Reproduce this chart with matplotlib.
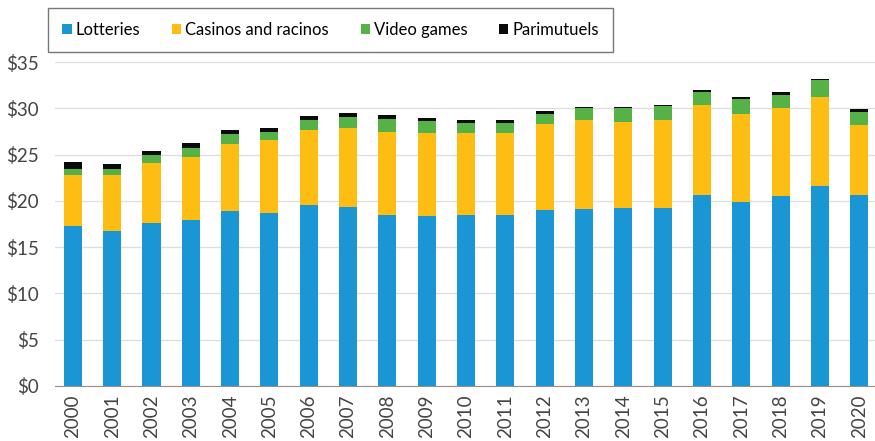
import numpy as np
import matplotlib.pyplot as plt

plt.rcParams['font.family'] = ['Lato', 'DejaVu Sans']

years = [str(y) for y in range(2000, 2021)]
lotteries = [17.3, 16.8, 17.6, 17.9, 18.9, 18.7, 19.6, 19.3, 18.5, 18.4, 18.5,
             18.5, 19.0, 19.1, 19.25, 19.25, 20.6, 19.85, 20.5, 21.6, 20.6]
casinos = [5.5, 6.0, 6.5, 6.8, 7.3, 7.9, 8.1, 8.6, 9.0, 8.9, 8.8,
           8.8, 9.3, 9.6, 9.3, 9.45, 9.75, 9.55, 9.5, 9.6, 7.6]
video = [0.7, 0.6, 0.9, 1.0, 1.0, 0.9, 1.0, 1.2, 1.4, 1.3, 1.1,
         1.1, 1.05, 1.3, 1.45, 1.55, 1.45, 1.6, 1.5, 1.85, 1.4]
parimutuels = [0.7, 0.6, 0.4, 0.6, 0.5, 0.4, 0.5, 0.4, 0.4, 0.35, 0.4,
               0.3, 0.4, 0.2, 0.2, 0.15, 0.2, 0.2, 0.3, 0.15, 0.3]

series = [("Lotteries", lotteries, "#1a96d4"),
          ("Casinos and racinos", casinos, "#fdbd13"),
          ("Video games", video, "#56b146"),
          ("Parimutuels", parimutuels, "#0a0a0a")]

fig = plt.figure(figsize=(8.75, 4.41), dpi=100)
ax = fig.add_axes([0.063, 0.125, 0.937, 0.734])

x = np.arange(len(years))
bottom = np.zeros(len(years))
handles = []
for name, vals, color in series:
    b = ax.bar(x, vals, bottom=bottom, width=0.46, color=color, label=name, zorder=3)
    bottom += np.array(vals)
    handles.append(b)

ax.set_xlim(-0.45, 20.4)
ax.set_ylim(0, 35)
ax.set_yticks(range(0, 36, 5))
ax.set_yticklabels([f"${v}" for v in range(0, 36, 5)], fontsize=13.5, color="#444444")
ax.set_xticks(x)
ax.set_xticklabels(years, rotation=90, fontsize=13.5, color="#444444")
ax.tick_params(length=0)
ax.tick_params(axis='y', pad=12)
ax.tick_params(axis='x', pad=6)
ax.grid(axis='y', color="#dddddd", linewidth=0.9, zorder=0)
for s in ['top', 'right', 'left']:
    ax.spines[s].set_visible(False)
ax.spines['bottom'].set_color("#9a8f88")

leg = fig.legend(handles=handles, loc='center', bbox_to_anchor=(0.378, 0.932),
                 ncol=4, fontsize=12, frameon=True, fancybox=False,
                 handlelength=0.55, handleheight=0.55, handletextpad=0.25,
                 columnspacing=1.9, borderpad=0.85)
leg.get_frame().set_edgecolor("#555555")
leg.get_frame().set_linewidth(1.0)

fig.savefig("out.png", dpi=100)
